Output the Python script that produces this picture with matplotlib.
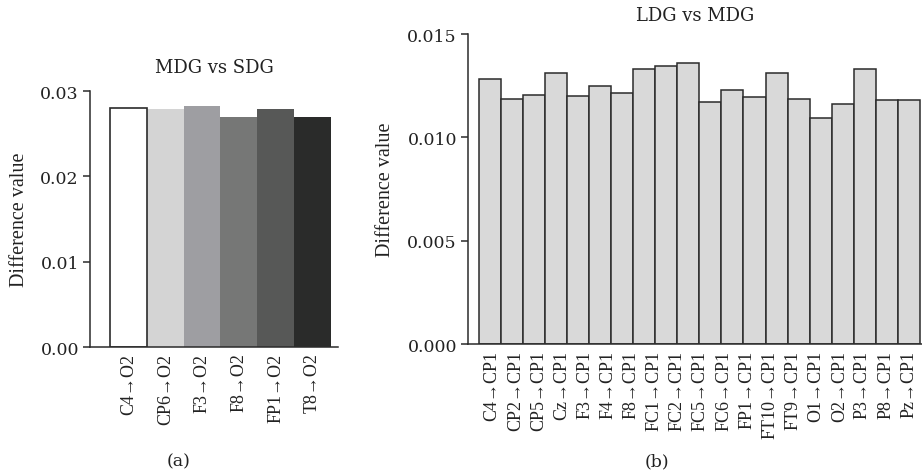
import matplotlib
matplotlib.use("Agg")
import matplotlib.pyplot as plt
import numpy as np

# (a) MDG vs SDG
mdg_labels = ["C4→O2", "CP6→O2", "F3→O2", "F8→O2", "FP1→O2", "T8→O2"]
mdg_values = [0.0280, 0.0279, 0.0282, 0.0269, 0.0279, 0.0269]
mdg_colors = ["#ffffff", "#d4d4d4", "#9e9ea2", "#767776", "#575857", "#2a2b2a"]

# (b) LDG vs MDG  (20 bars drawn, 19 labels printed in the source figure)
ldg_labels = ["C4→CP1", "CP2→CP1", "CP5→CP1", "Cz→CP1", "F3→CP1", "F4→CP1",
              "F8→CP1", "FC1→CP1", "FC2→CP1", "FC5→CP1", "FC6→CP1", "FP1→CP1",
              "FT10→CP1", "FT9→CP1", "O1→CP1", "O2→CP1", "P3→CP1", "P8→CP1",
              "Pz→CP1"]
ldg_values = [0.01283, 0.01187, 0.01205, 0.01310, 0.01202, 0.01247, 0.01213,
              0.01330, 0.01346, 0.01362, 0.01173, 0.01228, 0.01196, 0.01313,
              0.01184, 0.01092, 0.01162, 0.01331, 0.01181, 0.01181]

hfont = ["DejaVu Serif"]                       # horizontal text
vfont = ["Liberation Serif", "DejaVu Serif"]   # rotated text
ink = "#2b2b2b"

fig = plt.figure(figsize=(9.22, 4.77), dpi=100)
ax1 = fig.add_axes([0.0976, 0.2704, 0.269, 0.5367])
ax2 = fig.add_axes([0.5076, 0.2767, 0.4924, 0.6499])

def style(ax):
    for s in ["top", "right"]:
        ax.spines[s].set_visible(False)
    for s in ["left", "bottom"]:
        ax.spines[s].set_linewidth(1.1)
        ax.spines[s].set_color(ink)
    ax.tick_params(axis="y", direction="out", length=5, width=1.1, color=ink,
                   labelsize=12.5, labelcolor="#222222", pad=3)
    ax.tick_params(axis="x", length=0, pad=4)
    for t in ax.get_yticklabels():
        t.set_family(hfont)

# left panel
x1 = np.arange(len(mdg_values))
ax1.bar(x1, mdg_values, width=1.0, color=mdg_colors, edgecolor="none")
ax1.bar(x1[:1], mdg_values[:1], width=1.0, color="none", edgecolor=ink, linewidth=1.2)
ax1.set_xlim(-1.05, 5.7)
ax1.set_ylim(0, 0.03)
ax1.set_yticks([0.00, 0.01, 0.02, 0.03])
ax1.set_yticklabels(["0.00", "0.01", "0.02", "0.03"])
ax1.set_xticks(x1)
ax1.set_xticklabels(mdg_labels, rotation=90, fontsize=13, family=vfont, color="#222222")
style(ax1)
ax1.set_ylabel("Difference value", family=vfont, fontsize=14.5, color="#222222")
ax1.yaxis.set_label_coords(-0.246, 0.5)
ax1.set_title("MDG vs SDG", family=hfont, fontsize=13, color="#222222", pad=14)

# right panel
x2 = np.arange(len(ldg_values))
ax2.bar(x2, ldg_values, width=1.0, color="#d9d9d9", edgecolor=ink, linewidth=1.1)
ax2.set_xlim(-1.0, 19.6)
ax2.set_ylim(0, 0.015)
ax2.set_yticks([0.000, 0.005, 0.010, 0.015])
ax2.set_yticklabels(["0.000", "0.005", "0.010", "0.015"])
ax2.set_xticks(np.linspace(0.1, len(ldg_values) - 1, len(ldg_labels)))
ax2.set_xticklabels(ldg_labels, rotation=90, fontsize=13, family=vfont, color="#222222")
style(ax2)
ax2.set_ylabel("Difference value", family=vfont, fontsize=14.5, color="#222222")
ax2.yaxis.set_label_coords(-0.161, 0.5)
ax2.set_title("LDG vs MDG", family=hfont, fontsize=13, color="#222222", pad=10)

fig.text(179 / 922, 1 - 462 / 477, "(a)", family=hfont, fontsize=12.5,
         ha="center", va="center", color="#222222")
fig.text(657 / 922, 1 - 462 / 477, "(b)", family=hfont, fontsize=12.5,
         ha="center", va="center", color="#222222")

fig.savefig("out.png", dpi=100, facecolor="white")
